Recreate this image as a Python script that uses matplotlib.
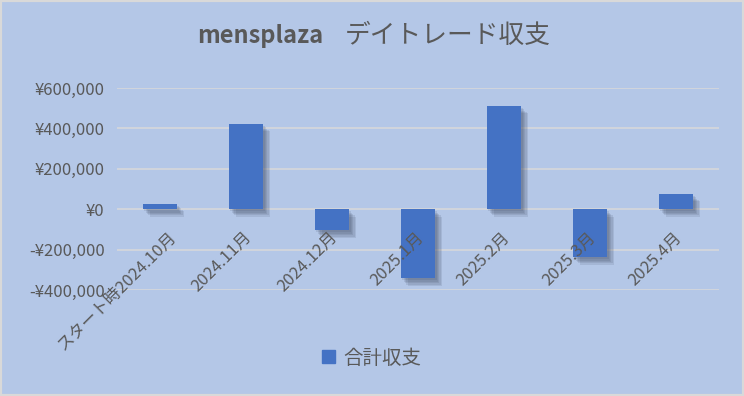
import numpy as np
import matplotlib
matplotlib.use('Agg')
import matplotlib.pyplot as plt
import matplotlib.patheffects as pe
from matplotlib.patches import Rectangle, Patch
from matplotlib.transforms import ScaledTranslation
from matplotlib.ticker import FuncFormatter, MultipleLocator

plt.rcParams['font.family'] = ['Noto Sans CJK JP', 'DejaVu Sans']

# data
months = ['スタート時2024.10月', '2024.11月', '2024.12月', '2025.1月',
          '2025.2月', '2025.3月', '2025.4月']
profit = [28000, 423000, -105000, -342000, 512000, -237000, 77000]
series_name = '合計収支'
title_latin = 'mensplaza'
title_jp = 'デイトレード収支'

bg = '#B4C7E7'
bar_col = '#4472C4'
txt = '#595959'
grid_col = '#D9D9D9'

W, H = 744, 396
fig = plt.figure(figsize=(W / 100, H / 100), dpi=100, facecolor=bg)
ax = fig.add_axes([117 / W, 1 - 290 / H, 602 / W, 202 / H])
ax.set_facecolor(bg)

x = np.arange(len(months))
bars = ax.bar(x, profit, width=0.4, color=bar_col, zorder=3)
# soft shadow, a few faint layers
shadow = [pe.SimplePatchShadow(offset=(d, -d - 0.5), shadow_rgbFace='#3a4660', alpha=0.13)
          for d in (1, 2, 3, 4, 5)]
for b in bars:
    b.set_path_effects(shadow + [pe.Normal()])

ax.set_xlim(-0.5, len(months) - 0.5)
ax.set_ylim(-400000, 600000)
ax.yaxis.set_major_locator(MultipleLocator(200000))
ax.yaxis.set_major_formatter(FuncFormatter(
    lambda v, p: ('-¥{:,.0f}'.format(-v) if v < 0 else '¥{:,.0f}'.format(v))))
ax.grid(axis='y', color=grid_col, linewidth=1.1)
ax.set_axisbelow(True)
ax.xaxis.set_zorder(5)  # month labels sit on top of the bars
for s in ax.spines.values():
    s.set_visible(False)

ax.tick_params(axis='y', length=0, pad=9, labelsize=12, labelcolor=txt)
ax.spines['bottom'].set_position(('data', 0))
ax.set_xticks(x)
ax.set_xticklabels(months)
ax.tick_params(axis='x', length=0, pad=14, labelsize=12, labelcolor=txt)
for i, lab in enumerate(ax.get_xticklabels()):
    dx = 8 if i == 0 else -3   # first (long) label is pushed right to stay inside
    lab.set_rotation(45)
    lab.set_ha('right')
    lab.set_rotation_mode('anchor')
    lab.set_transform(lab.get_transform() + ScaledTranslation(dx / 100, 0, fig.dpi_scale_trans))

# title
fig.text(323 / W, 1 - 36 / H, title_latin, ha='right', va='center',
         fontsize=17, fontweight='bold', color=txt)
fig.text(345 / W, 1 - 36 / H, title_jp, ha='left', va='center',
         fontsize=18.5, color=txt)

fig.legend(handles=[Patch(color=bar_col)], labels=[series_name], loc='center',
           bbox_to_anchor=(0.5, 1 - 358 / H), frameon=False, fontsize=14,
           labelcolor=txt, handlelength=0.65, handleheight=0.65, handletextpad=0.45)

fig.patches.append(Rectangle((0, 0), 1, 1, transform=fig.transFigure, fill=False,
                             edgecolor=grid_col, linewidth=3, zorder=10))

fig.savefig('out.png', dpi=100, facecolor=bg)
